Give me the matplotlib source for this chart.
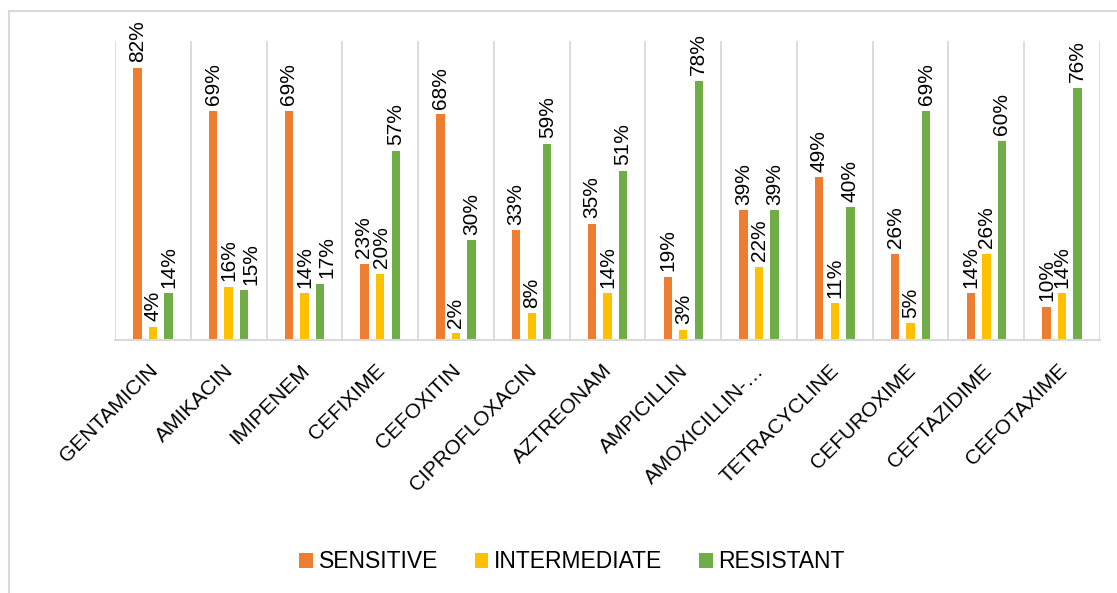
import matplotlib
matplotlib.use("Agg")
import matplotlib.pyplot as plt
from matplotlib.patches import Patch, Rectangle
from matplotlib.transforms import ScaledTranslation
import numpy as np

plt.rcParams["font.family"] = ["Liberation Sans", "DejaVu Sans"]

# ---------------------------------------------------------------------
# Data
# ---------------------------------------------------------------------
drugs = ["GENTAMICIN", "AMIKACIN", "IMIPENEM", "CEFIXIME", "CEFOXITIN",
         "CIPROFLOXACIN", "AZTREONAM", "AMPICILLIN", "AMOXICILLIN-…",
         "TETRACYCLINE", "CEFUROXIME", "CEFTAZIDIME", "CEFOTAXIME"]
sensitive    = [82, 69, 69, 23, 68, 33, 35, 19, 39, 49, 26, 14, 10]
intermediate = [4, 16, 14, 20, 2, 8, 14, 3, 22, 11, 5, 26, 14]
resistant    = [14, 15, 17, 57, 30, 59, 51, 78, 39, 40, 69, 60, 76]

series = [("SENSITIVE", sensitive, "#ED7D31"),
          ("INTERMEDIATE", intermediate, "#FFC000"),
          ("RESISTANT", resistant, "#70AD47")]

# labels that were nudged sideways in the original (series, category) -> pt
nudge = {(2, 1): 5, (2, 2): 5, (0, 3): -1, (1, 3): 1}

W, H = 1117, 593
fig = plt.figure(figsize=(W / 100, H / 100), dpi=100)

# chart border (cropped at right / bottom like the original)
fig.patches.append(Rectangle((9.5 / W, -0.1), 1.2, 1 - 11.5 / H + 0.1,
                             transform=fig.transFigure, fill=False,
                             edgecolor="#D9D9D9", linewidth=1.5))

ax = fig.add_axes([115 / W, 1 - 340 / H, (1100 - 115) / W, (340 - 41) / H])

x = np.arange(len(drugs))
bar_w = 0.11
offsets = [-0.205, 0.0, 0.205]

for si, ((name, vals, col), off) in enumerate(zip(series, offsets)):
    bars = ax.bar(x + off, vals, width=bar_w, color=col, label=name)
    for ci, (b, v) in enumerate(zip(bars, vals)):
        ax.annotate(f"{v}%", (b.get_x() + b.get_width() / 2, v),
                    xytext=(nudge.get((si, ci), 0), 4),
                    textcoords="offset points",
                    rotation=90, ha="center", va="bottom",
                    fontsize=15, color="#000000")

# category separators
ax.vlines(np.arange(len(drugs) + 1) - 0.5, 0, 90, color="#D9D9D9",
          linewidth=1.3, zorder=0)

ax.set_xlim(-0.5, len(drugs) - 0.5)
ax.set_ylim(0, 90)
ax.set_yticks([])
for s in ["top", "right", "left"]:
    ax.spines[s].set_visible(False)
ax.spines["bottom"].set_color("#D9D9D9")
ax.spines["bottom"].set_linewidth(1.5)

ax.set_xticks(x)
ax.set_xticklabels(drugs, rotation=45, ha="right", rotation_mode="anchor",
                   fontsize=15, color="#000000")
ax.tick_params(axis="x", length=0, pad=15)
shift = ScaledTranslation(-5 / 100, 0, fig.dpi_scale_trans)
for lbl in ax.get_xticklabels():
    lbl.set_transform(lbl.get_transform() + shift)

handles = [Patch(facecolor=c, edgecolor="none") for _, _, c in series]
fig.legend(handles, [n for n, _, _ in series], loc="center",
           bbox_to_anchor=(0.512, 1 - 562 / H), ncol=3, frameon=False,
           fontsize=16.5, handlelength=0.6, handleheight=0.6,
           handletextpad=0.25, columnspacing=1.6)

fig.savefig("out.png", dpi=100)
